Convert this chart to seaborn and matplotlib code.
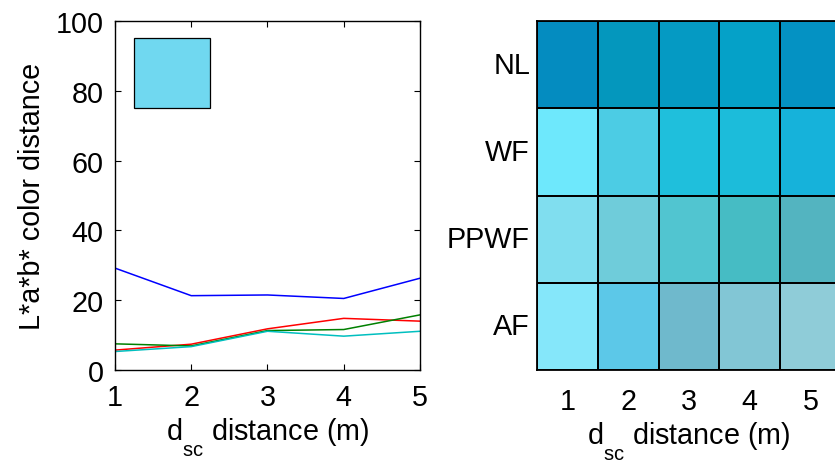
import numpy as np
import pandas as pd
import matplotlib
matplotlib.use("Agg")
import matplotlib.pyplot as plt
from matplotlib.colors import ListedColormap
from matplotlib.patches import Rectangle
import seaborn as sns

# Distances (m)
distances = [1, 2, 3, 4, 5]

# L*a*b* color distance per condition
nl_dist = [29.2, 21.3, 21.5, 20.5, 26.3]
wf_dist = [5.7, 7.4, 11.8, 14.8, 14.0]
ppwf_dist = [7.5, 6.9, 11.3, 11.6, 15.8]
af_dist = [5.3, 6.7, 11.1, 9.7, 11.1]
line_colors = ["#0000ff", "#ff0000", "#008000", "#00bfbf"]

# Reference swatch colour
swatch_color = "#70D8F0"

# Rendered colour per condition and distance
conditions = ["NL", "WF", "PPWF", "AF"]
nl_colors = ["#048CC0", "#0497BD", "#059AC3", "#05A1C8", "#0492C3"]
wf_colors = ["#6EE8FC", "#4CCCE4", "#1FBFDC", "#1CBCDA", "#16B2DA"]
ppwf_colors = ["#80DEEF", "#6FCCDA", "#51C5D0", "#46BCC4", "#53B4C0"]
af_colors = ["#85E7FA", "#5CC8E8", "#6FB9CC", "#82C6D5", "#8FCCD8"]

sns.set_theme(style="white")
plt.rcParams["font.family"] = ["Liberation Sans", "DejaVu Sans"]
plt.rcParams["mathtext.fontset"] = "custom"
plt.rcParams["mathtext.rm"] = "Liberation Sans"
plt.rcParams["mathtext.it"] = "Liberation Sans"
plt.rcParams["text.color"] = "black"
plt.rcParams["axes.labelcolor"] = "black"

# Drop subscripts a little lower, as in the usual figure style
try:
    from matplotlib import _mathtext
    _mathtext.FontConstantsBase.sub1 = 1.0
    _mathtext.FontConstantsBase.sub2 = 1.0
except Exception:
    pass

fs = 20.7
xlab = r"d$_{\mathrm{sc}}$ distance (m)"
fig = plt.figure(figsize=(8.35, 4.64), dpi=100)

# Left: line chart
ax1 = fig.add_axes([0.1377, 0.2004, 0.3653, 0.7522])
df = pd.DataFrame({
    "d": distances * 4,
    "v": nl_dist + wf_dist + ppwf_dist + af_dist,
    "c": sum([[c] * len(distances) for c in conditions], []),
})
sns.lineplot(data=df, x="d", y="v", hue="c", palette=line_colors,
             linewidth=1.1, legend=False, ax=ax1)
ax1.add_patch(Rectangle((1.25, 75), 1.0, 20, facecolor=swatch_color,
                        edgecolor="black", linewidth=0.9))
ax1.set_xlim(1, 5)
ax1.set_ylim(0, 100)
ax1.set_xticks(distances)
ax1.set_yticks([0, 20, 40, 60, 80, 100])
ax1.tick_params(direction="in", length=4, width=0.8, labelsize=fs,
                top=True, right=True, bottom=True, left=True, colors="black")
ax1.tick_params(axis="x", pad=9)
ax1.tick_params(axis="y", pad=8)
for s in ax1.spines.values():
    s.set_visible(True)
    s.set_color("black")
    s.set_linewidth(1.0)
ax1.set_xlabel(xlab, fontsize=fs, labelpad=3, color="black")
ax1.set_ylabel("L*a*b* color distance", fontsize=fs, labelpad=7, color="black")

# Right: colour grid
ax2 = fig.add_axes([0.6431, 0.2004, 0.3641, 0.7522])
grid_colors = nl_colors + wf_colors + ppwf_colors + af_colors
idx = np.arange(len(grid_colors)).reshape(len(conditions), len(distances))
sns.heatmap(pd.DataFrame(idx, index=conditions, columns=distances),
            cmap=ListedColormap(grid_colors), vmin=-0.5, vmax=len(grid_colors) - 0.5,
            cbar=False, linewidths=1.3, linecolor="black", ax=ax2)
ax2.tick_params(length=0, labelsize=fs, colors="black")
ax2.tick_params(axis="x", pad=12)
ax2.tick_params(axis="y", pad=5)
ax2.set_yticklabels(conditions, rotation=0)
ax2.set_xticklabels([str(d) for d in distances], rotation=0)
ax2.set_xlabel(xlab, fontsize=fs, labelpad=3, color="black")
ax2.set_ylabel("")
for s in ax2.spines.values():
    s.set_visible(True)
    s.set_color("black")
    s.set_linewidth(1.3)

fig.savefig("out.png", dpi=100)
